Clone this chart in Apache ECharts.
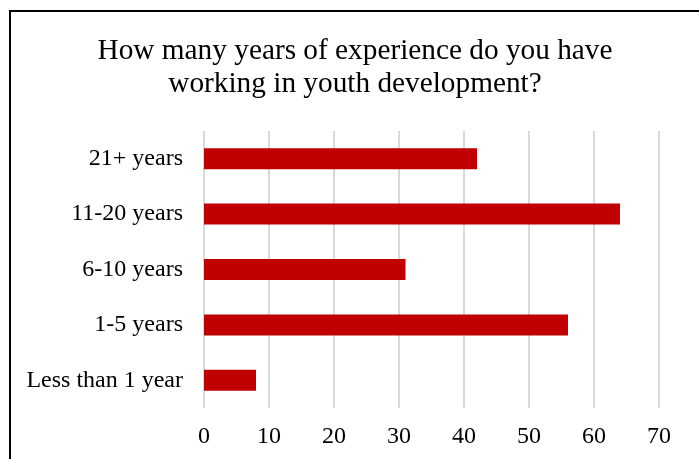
<!DOCTYPE html>
<html>
<head>
<meta charset="utf-8">
<script src="https://cdn.jsdelivr.net/npm/echarts@6/dist/echarts.min.js"></script>
<style>html,body{margin:0;padding:0;background:#fff;}#c{width:699px;height:459px;}</style>
</head>
<body>
<div id="c"></div>
<script>
const titleText = "How many years of experience do you have\nworking in youth development?";
const categories = ["Less than 1 year", "1-5 years", "6-10 years", "11-20 years", "21+ years"];
const values = [8, 56, 31, 64, 42];
const xTicks = [0, 10, 20, 30, 40, 50, 60, 70];

const chart = echarts.init(document.getElementById('c'), null, {renderer: 'canvas'});
const font = '"Liberation Serif", "Times New Roman", serif';
chart.setOption({
  animation: false,
  backgroundColor: '#fff',
  title: {
    text: titleText,
    left: 355,
    top: 30,
    textAlign: 'center',
    textStyle: {fontFamily: font, fontSize: 29.3, fontWeight: 'normal', color: '#000', lineHeight: 33}
  },
  graphic: [{
    type: 'rect',
    shape: {x: 10, y: 11, width: 720, height: 480},
    style: {fill: 'none', stroke: '#000', lineWidth: 2},
    silent: true
  }],
  grid: {left: 204, right: 40, top: 131, bottom: 51, containLabel: false},
  xAxis: {
    type: 'value',
    min: xTicks[0],
    max: xTicks[xTicks.length - 1],
    interval: 10,
    axisLine: {show: false},
    axisTick: {show: false},
    axisLabel: {fontFamily: font, fontSize: 24, color: '#000', margin: 17},
    splitLine: {show: true, lineStyle: {color: '#d9d9d9', width: 2}}
  },
  yAxis: {
    type: 'category',
    data: categories,
    axisLine: {show: false},
    axisTick: {show: false},
    axisLabel: {fontFamily: font, fontSize: 24, color: '#000', margin: 21},
    splitLine: {show: false}
  },
  series: [{
    type: 'bar',
    data: values,
    barWidth: 21,
    itemStyle: {color: '#C00000'}
  }]
});
chart.setOption({title: {left: 350}});
</script>
</body>
</html>
